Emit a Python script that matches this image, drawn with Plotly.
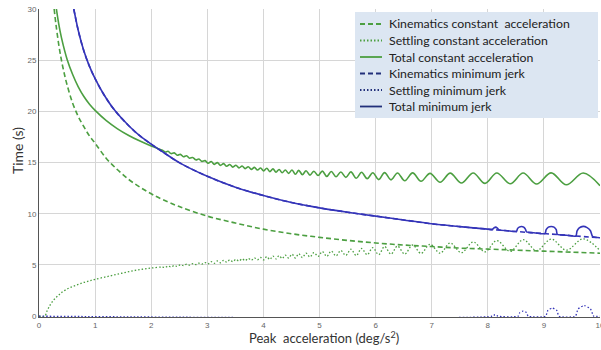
import plotly.graph_objects as go

# ---------------- data ----------------
# Kinematics, constant acceleration (green dashed)
kin_ca_x = [0.27, 0.3, 0.35, 0.4, 0.45, 0.5, 0.6, 0.7, 0.8, 0.9, 1.0, 1.2, 1.4, 1.6, 1.8, 2.0, 2.2,
            2.5, 3.0, 3.5, 4.0, 4.5, 5.0, 5.5, 6.0, 6.5, 7.0, 7.5, 8.0, 8.5, 9.0, 9.5, 10.0]
kin_ca_y = [30.0, 28.6, 26.6, 25.0, 23.7, 22.6, 20.8, 19.5, 18.5, 17.6, 16.9, 15.4, 14.3, 13.35, 12.6, 11.95, 11.4,
            10.7, 9.77, 9.1, 8.5, 8.05, 7.7, 7.4, 7.15, 6.95, 6.8, 6.65, 6.55, 6.45, 6.35, 6.25, 6.15]

# smooth (non-oscillating) parts
set_ca_smooth_x = [0.0, 0.1, 0.15, 0.2, 0.25, 0.3, 0.35, 0.4, 0.5, 0.6, 0.7, 0.8, 0.9, 1.0, 1.2, 1.4, 1.6, 1.8, 2.0, 2.2]
set_ca_smooth_y = [0.0, 0.0, 0.6, 1.1, 1.5, 1.8, 2.05, 2.3, 2.65, 2.9, 3.1, 3.3, 3.45, 3.6, 3.85, 4.1, 4.35, 4.55, 4.7, 4.8]

tot_ca_smooth_x = [0.31, 0.35, 0.4, 0.5, 0.6, 0.7, 0.8, 0.9, 1.0, 1.2, 1.4, 1.6, 1.8, 2.0, 2.2]
tot_ca_smooth_y = [30.0, 28.6, 27.2, 25.1, 23.6, 22.4, 21.45, 20.7, 20.1, 19.1, 18.3, 17.65, 17.1, 16.62, 16.2]

# oscillating part: alternating troughs / peaks
osc_x = [2.25, 2.30, 2.355, 2.41, 2.465, 2.52, 2.575, 2.63, 2.685, 2.74, 2.795, 2.85, 2.905, 2.96,
         3.015, 3.07, 3.125, 3.18, 3.235, 3.29, 3.345, 3.40, 3.455, 3.51, 3.565, 3.62, 3.675, 3.73,
         3.785, 3.84, 3.895, 3.95, 4.005, 4.06, 4.115, 4.17, 4.225, 4.28, 4.335, 4.39, 4.45, 4.51,
         4.57, 4.63, 4.695, 4.76, 4.83, 4.90, 4.975, 5.05, 5.13, 5.21, 5.295, 5.38, 5.47, 5.56,
         5.655, 5.75, 5.85, 5.95, 6.055, 6.16, 6.275, 6.39, 6.52, 6.66, 6.81, 6.97, 7.15, 7.33,
         7.53, 7.74, 7.95, 8.16, 8.40, 8.63, 8.87, 9.13, 9.40, 9.70, 10.0]
tot_ca_osc_y = [16.03, 16.10, 15.88, 15.95, 15.72, 15.80, 15.57, 15.67, 15.43, 15.50, 15.27, 15.35, 15.12, 15.19,
                14.93, 15.10, 14.83, 15.00, 14.73, 14.90, 14.64, 14.82, 14.56, 14.74, 14.48, 14.66, 14.41, 14.59,
                14.34, 14.53, 14.28, 14.47, 14.18, 14.45, 14.12, 14.39, 14.06, 14.33, 14.01, 14.28, 13.95, 14.28,
                13.86, 14.24, 13.82, 14.20, 13.78, 14.16, 13.74, 14.17, 13.65, 14.13, 13.61, 14.08, 13.56, 14.09,
                13.47, 14.05, 13.43, 14.01, 13.34, 14.02, 13.31, 13.99, 13.22, 14.00, 13.18, 13.95, 13.08, 13.97,
                13.00, 13.99, 12.97, 13.99, 12.93, 13.98, 12.91, 14.00, 12.83, 13.98, 12.75]
set_ca_osc_y = [4.76, 4.90, 4.81, 4.95, 4.86, 5.02, 4.93, 5.07, 4.98, 5.13, 5.04, 5.18, 5.09, 5.24,
                5.11, 5.33, 5.16, 5.39, 5.22, 5.45, 5.27, 5.50, 5.33, 5.55, 5.38, 5.60, 5.42, 5.64,
                5.46, 5.69, 5.51, 5.73, 5.50, 5.82, 5.54, 5.87, 5.59, 5.91, 5.63, 5.96, 5.68, 6.05,
                5.68, 6.10, 5.73, 6.15, 5.78, 6.21, 5.84, 6.31, 5.84, 6.36, 5.89, 6.41, 5.94, 6.54,
                5.92, 6.61, 6.00, 6.69, 6.01, 6.80, 6.07, 6.85, 6.07, 6.95, 6.13, 7.02, 6.15, 7.15,
                6.20, 7.25, 6.29, 7.38, 6.33, 7.47, 6.41, 7.53, 6.45, 7.55, 6.40]

# Minimum jerk
kin_mj_x = [0.62, 0.7, 0.8, 0.9, 1.0, 1.15, 1.35, 1.6, 1.8, 2.0, 2.19, 2.5, 3.0, 3.5, 4.0, 4.5,
            5.0, 5.5, 6.0, 6.5, 7.0, 7.5, 8.0, 8.5, 9.0, 9.5, 10.0]
kin_mj_y = [30.0, 27.9, 25.9, 24.4, 23.2, 21.7, 20.1, 18.6, 17.6, 16.8, 16.1, 15.0, 13.66, 12.6, 11.78, 11.1,
            10.58, 10.15, 9.77, 9.4, 9.02, 8.75, 8.5, 8.27, 8.07, 7.86, 7.66]

tot_mj_x = [0.62, 0.7, 0.8, 0.9, 1.0, 1.15, 1.35, 1.6, 1.8, 2.0, 2.19, 2.5, 3.0, 3.5, 4.0, 4.5,
            5.0, 5.5, 6.0, 6.5, 7.0, 7.5, 8.0, 8.08, 8.11, 8.14, 8.17, 8.2, 8.35, 8.51, 8.53, 8.56, 8.60,
            8.64, 8.67, 8.69, 8.85, 9.02, 9.04, 9.08, 9.13, 9.18, 9.22, 9.24, 9.4, 9.57, 9.59, 9.63, 9.70,
            9.77, 9.83, 9.87, 10.0]
tot_mj_y = [30.0, 27.9, 25.9, 24.4, 23.2, 21.7, 20.1, 18.6, 17.6, 16.8, 16.1, 15.0, 13.66, 12.6, 11.78, 11.1,
            10.58, 10.15, 9.77, 9.4, 9.02, 8.75, 8.5, 8.46, 8.62, 8.70, 8.60, 8.43, 8.35, 8.28, 8.55, 8.70, 8.76,
            8.70, 8.50, 8.24, 8.13, 8.06, 8.45, 8.70, 8.76, 8.70, 8.45, 7.98, 7.91, 7.83, 8.30, 8.62, 8.77,
            8.65, 8.35, 7.76, 7.66]

set_mj_x = [0.0, 8.08, 8.13, 8.18, 8.54, 8.57, 8.63, 8.69, 8.72, 9.03, 9.07, 9.15, 9.23, 9.27,
            9.56, 9.61, 9.72, 9.83, 9.89, 10.0]
set_mj_y = [0.0, 0.0, 0.16, 0.0, 0.0, 0.35, 0.49, 0.35, 0.0, 0.0, 0.55, 0.80, 0.55, 0.0,
            0.0, 0.70, 1.04, 0.70, 0.0, 0.0]

x_ticks = [0, 1, 2, 3, 4, 5, 6, 7, 8, 9, 10]
y_ticks = [0, 5, 10, 15, 20, 25, 30]

legend_labels = ["Kinematics constant\u00a0 acceleration", "Settling constant acceleration",
                 "Total constant acceleration", "Kinematics minimum jerk",
                 "Settling minimum jerk", "Total minimum jerk"]

GREEN = "#4c9f41"
BLUE = "#3434b8"
NAVY = "#22307a"
DASH = "5px,3px"
DOT = "1.5px,2px"

# ---------------- geometry (pixels -> paper) ----------------
W, H = 601, 350
L, R, T, B = 39, 1, 9, 33
PW, PH = W - L - R, H - T - B


def px(xp):
    return (xp - L) / PW


def py(yp):
    return (H - B - yp) / PH


fig = go.Figure()
styles = [
    (kin_ca_x, kin_ca_y, GREEN, 1.6, DASH, 1.0),
    (set_ca_smooth_x + osc_x, set_ca_smooth_y + set_ca_osc_y, GREEN, 1.3, DOT, 1.0),
    (tot_ca_smooth_x + osc_x, tot_ca_smooth_y + tot_ca_osc_y, GREEN, 1.6, "solid", 1.0),
    (kin_mj_x, kin_mj_y, BLUE, 1.6, DASH, 1.0),
    (set_mj_x, set_mj_y, BLUE, 1.3, DOT, 0.6),
    (tot_mj_x, tot_mj_y, BLUE, 1.6, "solid", 0.6),
]
for (xs, ys, col, w, dash, sm), name in zip(styles, legend_labels):
    fig.add_trace(go.Scatter(x=xs, y=ys, mode="lines", name=name, hoverinfo="skip",
                             line=dict(color=col, width=w, dash=dash, shape="spline", smoothing=sm)))

# custom legend box (to match the reference's compact spacing)
shapes = [dict(type="rect", xref="paper", yref="paper", x0=px(355), x1=px(598), y0=py(118), y1=py(12),
               fillcolor="#dce6f2", line=dict(width=0), layer="above")]
annotations = []
row_y = [24, 40.5, 57, 73.5, 90, 106.5]
leg_cols = [GREEN, GREEN, GREEN, NAVY, NAVY, NAVY]
leg_dash = [DASH, DOT, "solid", DASH, DOT, "solid"]
for yy, col, dash, lab in zip(row_y, leg_cols, leg_dash, legend_labels):
    shapes.append(dict(type="line", xref="paper", yref="paper", x0=px(360), x1=px(382), y0=py(yy), y1=py(yy),
                       line=dict(color=col, width=1.8, dash=dash), layer="above"))
    annotations.append(dict(text=lab, x=px(387), y=py(yy), xref="paper", yref="paper", showarrow=False,
                            xanchor="left", yanchor="middle",
                            font=dict(family="Lato", size=12.3, color="#222222")))

annotations += [
    dict(text="Time (s)", x=px(17), y=py(151), xref="paper", yref="paper", textangle=-90,
         showarrow=False, xanchor="center", yanchor="middle",
         font=dict(family="Lato", size=14, color="#333333")),
    dict(text="Peak\u00a0 acceleration (deg/s<sup>2</sup>)", x=px(324), y=py(337), xref="paper", yref="paper",
         showarrow=False, xanchor="center", yanchor="middle",
         font=dict(family="Lato", size=13, color="#333333")),
]

fig.update_layout(
    width=W, height=H,
    margin=dict(l=L, r=R, t=T, b=B, autoexpand=False),
    paper_bgcolor="white", plot_bgcolor="white",
    showlegend=False,
    shapes=shapes,
    annotations=annotations,
)
fig.update_xaxes(range=[0, 10], tickvals=x_ticks, ticktext=[str(v) for v in x_ticks],
                 showgrid=True, gridcolor="#d6d6d6", gridwidth=1, zeroline=False, automargin=False,
                 showline=True, linecolor="#555555", linewidth=1, ticks="", ticklabeloverflow="allow",
                 tickfont=dict(family="Liberation Sans", size=8, color="#666666"))
fig.update_yaxes(range=[-0.08, 30], tickvals=y_ticks, ticktext=[str(v) for v in y_ticks],
                 showgrid=True, gridcolor="#d6d6d6", gridwidth=1, zeroline=False, automargin=False,
                 showline=True, linecolor="#555555", linewidth=1, ticks="", ticklabeloverflow="allow",
                 tickfont=dict(family="Liberation Sans", size=8, color="#666666"))

fig.write_html("out.html", config={"displayModeBar": False},
               post_script="document.body.style.margin='0';document.body.style.overflow='hidden';")
